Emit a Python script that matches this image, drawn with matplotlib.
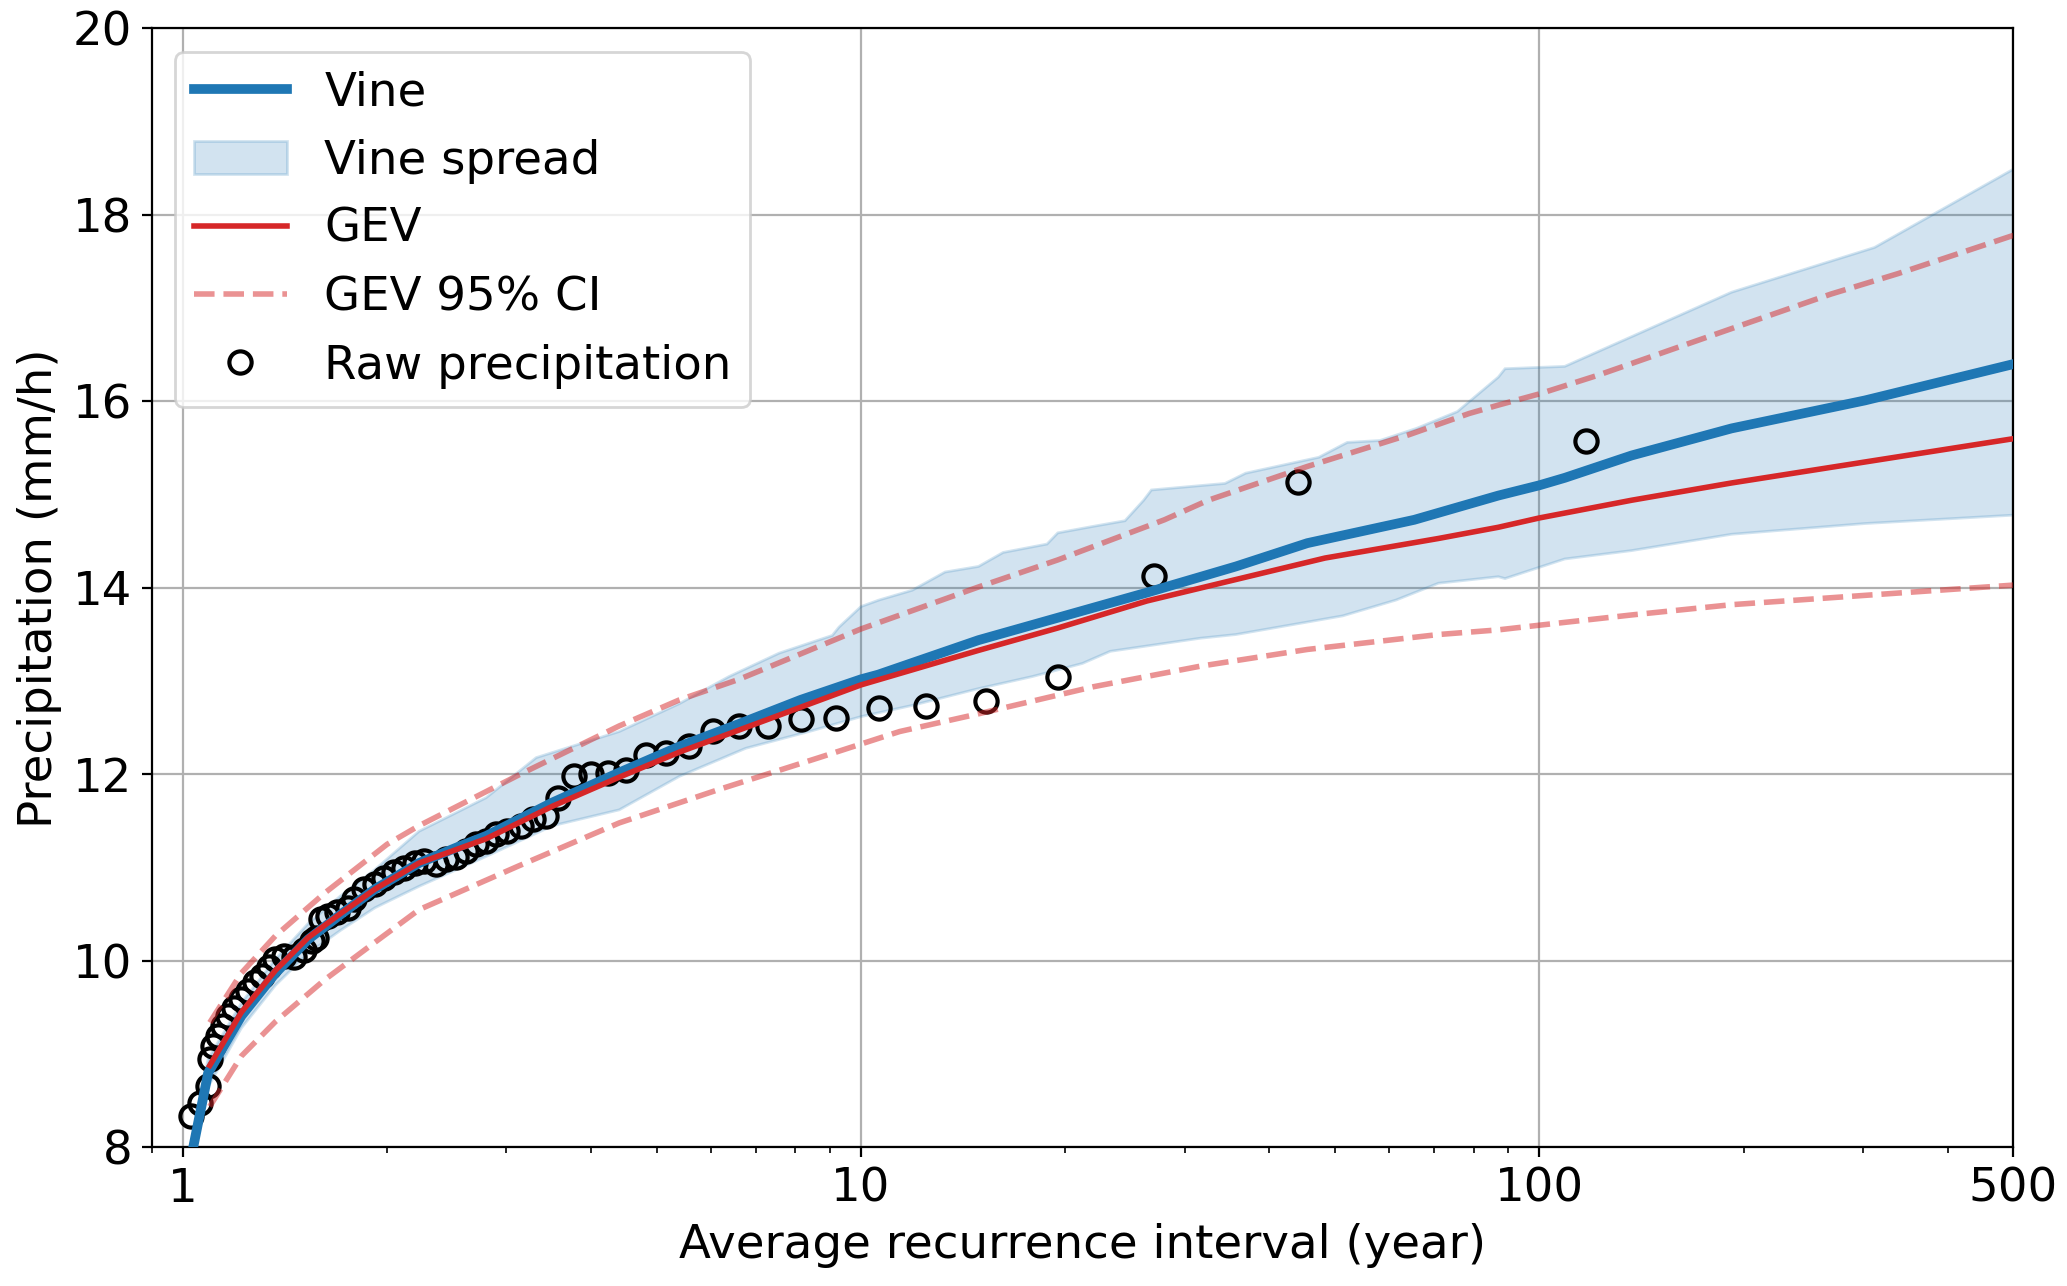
import matplotlib
matplotlib.use("Agg")
import matplotlib.pyplot as plt
import matplotlib.ticker as mticker
import numpy as np

plt.rcParams["font.size"] = 16.8

# Vine median curve
vine_t = [1.025, 1.036, 1.09, 1.22, 1.37, 1.53, 1.71, 1.92, 2.23, 2.54, 2.8, 3.51, 4.4,
          5.4, 6.6, 8.15, 10, 10.6, 14.9, 19.5, 26.4, 35.7, 45.5, 65.4, 87, 100, 109,
          136.8, 192, 302, 500]
vine_v = [7.6, 8.0, 8.8, 9.41, 9.87, 10.23, 10.5, 10.77, 11.05, 11.22, 11.34, 11.7, 12.02,
          12.3, 12.54, 12.8, 13.02, 13.07, 13.44, 13.68, 13.95, 14.23, 14.48, 14.73, 14.99,
          15.1, 15.18, 15.42, 15.71, 16.01, 16.4]

# Vine spread (upper / lower edge)
spr_up_t = [1.025, 1.036, 1.09, 1.22, 1.37, 1.53, 1.71, 1.92, 2.23, 2.8, 3.32, 4.4, 5.4,
            6.39, 7.57, 9.07, 9.28, 10, 10.63, 11.9, 13.3, 14.9, 16.2, 18.8, 19.5, 22,
            24.5, 26.1, 26.8, 34.4, 36.9, 47.3, 52.1, 58.2, 65.9, 75.7, 87, 89, 109,
            192, 312, 500]
spr_up_v = [7.75, 8.15, 8.95, 9.55, 10.02, 10.4, 10.7, 10.98, 11.39, 11.75, 12.18, 12.46,
            12.76, 13.05, 13.3, 13.49, 13.58, 13.8, 13.87, 13.975, 14.17, 14.23, 14.38,
            14.47, 14.59, 14.66, 14.72, 14.94, 15.05, 15.12, 15.23, 15.4, 15.56, 15.58,
            15.71, 15.89, 16.26, 16.35, 16.375, 17.17, 17.65, 18.49]
spr_lo_t = [1.025, 1.036, 1.09, 1.22, 1.37, 1.53, 1.71, 1.92, 2.23, 2.8, 3.51, 4.4, 5.4,
            6.76, 8.48, 10, 11.9, 14.9, 17.9, 21.2, 23.3, 31.6, 35.7, 51.3, 61.5, 71, 87,
            89, 109, 136.8, 192, 302, 500]
spr_lo_v = [7.45, 7.85, 8.65, 9.28, 9.74, 10.08, 10.33, 10.57, 10.8, 11.12, 11.45, 11.62,
            11.98, 12.28, 12.47, 12.62, 12.74, 12.92, 13.05, 13.19, 13.32, 13.46, 13.5,
            13.7, 13.87, 14.05, 14.12, 14.1, 14.31, 14.4, 14.575, 14.69, 14.78]

# GEV fit and its 95% confidence interval
gev_t = [1.096, 1.22, 1.37, 1.53, 1.71, 1.92, 2.23, 2.8, 3.51, 4.4, 5.4, 10, 14.9, 19.5,
         26.4, 35.7, 48.3, 71, 87, 100, 136.8, 192, 302, 500]
gev_v = [8.88, 9.45, 9.9, 10.25, 10.51, 10.77, 11.05, 11.31, 11.66, 11.97, 12.24, 12.96,
         13.33, 13.57, 13.86, 14.09, 14.32, 14.53, 14.65, 14.75, 14.94, 15.125, 15.35, 15.6]
ci_up_t = [1.096, 1.22, 1.37, 1.62, 2.0, 2.23, 3.14, 4.4, 5.4, 6.61, 10, 14.9, 19.5, 28,
           32.5, 45.4, 64.1, 78.8, 87, 100, 122, 192, 269, 338, 500]
ci_up_v = [9.34, 9.87, 10.27, 10.73, 11.25, 11.45, 12.0, 12.52, 12.8, 13.02, 13.56, 14.01,
           14.3, 14.73, 14.94, 15.3, 15.64, 15.87, 15.96, 16.08, 16.28, 16.78, 17.15, 17.37,
           17.78]
ci_lo_t = [1.096, 1.22, 1.37, 1.62, 1.92, 2.23, 3.13, 4.4, 6.18, 8.67, 11.4, 14.9, 22,
           31.6, 45.5, 71, 87, 100, 136.8, 192, 302, 500]
ci_lo_v = [8.44, 8.98, 9.35, 9.8, 10.2, 10.55, 11.02, 11.48, 11.84, 12.18, 12.46, 12.65,
           12.94, 13.16, 13.34, 13.5, 13.55, 13.6, 13.71, 13.82, 13.92, 14.03]

# observed annual maxima
raw_t = [117, 44, 27.0, 19.5, 15.3, 12.45, 10.63, 9.2, 8.15, 7.3, 6.6, 6.04, 5.58, 5.15,
         4.82, 4.51, 4.24, 4.0, 3.78, 3.58, 3.43, 3.28, 3.15, 3.01, 2.9, 2.8, 2.71, 2.62,
         2.53, 2.44, 2.36, 2.27, 2.2, 2.12, 2.05, 1.98, 1.92, 1.85, 1.79, 1.75, 1.69, 1.64,
         1.6, 1.57, 1.55, 1.51, 1.46, 1.41, 1.37, 1.34, 1.31, 1.28, 1.25, 1.22, 1.19,
         1.166, 1.146, 1.127, 1.11, 1.096, 1.09, 1.06, 1.03]
raw_v = [15.58, 15.14, 14.13, 13.04, 12.79, 12.73, 12.71, 12.6, 12.59, 12.52, 12.52, 12.47,
         12.3, 12.23, 12.21, 12.05, 12.01, 12.0, 11.98, 11.75, 11.55, 11.52, 11.45, 11.39,
         11.36, 11.29, 11.25, 11.18, 11.12, 11.09, 11.04, 11.07, 11.05, 11.0, 10.95, 10.89,
         10.82, 10.77, 10.66, 10.57, 10.52, 10.48, 10.45, 10.25, 10.21, 10.12, 10.04,
         10.05, 10.02, 9.93, 9.84, 9.77, 9.68, 9.59, 9.5, 9.41, 9.3, 9.2, 9.09, 8.95,
         8.66, 8.48, 8.34]

fig = plt.figure(figsize=(2067 / 200, 1286 / 200), dpi=200)
ax = fig.add_axes([0.0734, 0.1077, 0.9007, 0.8703])

spread_x = list(spr_up_t) + list(spr_lo_t[::-1])
spread_y = list(spr_up_v) + list(spr_lo_v[::-1])
h_spread = ax.fill(spread_x, spread_y, color="tab:blue", alpha=0.2, lw=1,
                   label="Vine spread", zorder=1)[0]

h_raw, = ax.plot(raw_t, raw_v, "o", ms=8, mfc="none", mec="k", mew=1.5,
                 label="Raw precipitation", zorder=2)
h_vine, = ax.plot(vine_t, vine_v, color="tab:blue", lw=3.5, label="Vine", zorder=3)
h_gev, = ax.plot(gev_t, gev_v, color="tab:red", lw=2, label="GEV", zorder=4)
h_ci, = ax.plot(ci_up_t, ci_up_v, "--", color="tab:red", alpha=0.5, lw=2,
                label="GEV 95% CI", zorder=4)
ax.plot(ci_lo_t, ci_lo_v, "--", color="tab:red", alpha=0.5, lw=2, zorder=4)

ax.set_xscale("log")
ax.set_xlim(0.9, 500)
ax.set_ylim(8, 20)
ax.set_xticks([1, 10, 100, 500])
ax.xaxis.set_major_formatter(mticker.FuncFormatter(lambda v, p: "%g" % v))
ax.xaxis.set_minor_formatter(mticker.NullFormatter())
ax.set_yticks(np.arange(8, 21, 2))
ax.grid(True, which="major")
ax.set_axisbelow(True)

ax.set_xlabel("Average recurrence interval (year)")
ax.set_ylabel("Precipitation (mm/h)")
ax.legend(handles=[h_vine, h_spread, h_gev, h_ci, h_raw], loc="upper left")

fig.savefig("out.png", dpi=200)
